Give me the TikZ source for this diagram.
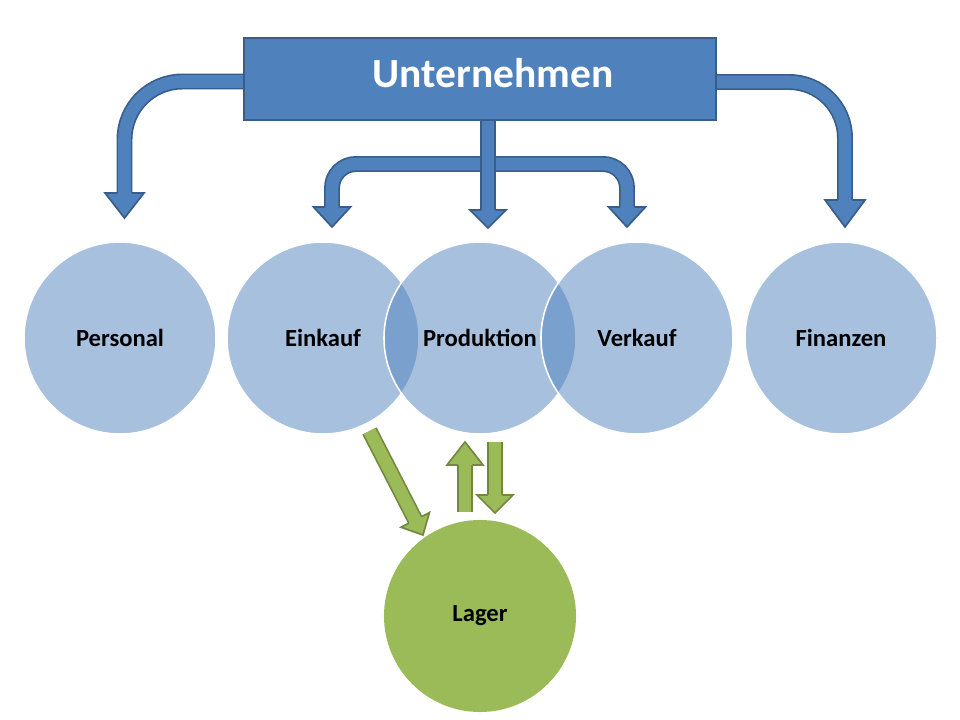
\documentclass[tikz,border=0pt]{standalone}
\usepackage{fontspec}
\setmainfont{Carlito}
\usetikzlibrary{calc}

\definecolor{blueA}{HTML}{4F81BD}
\definecolor{blueB}{HTML}{385D8A}
\definecolor{greenA}{HTML}{9BBB59}
\definecolor{greenB}{HTML}{71893F}

\tikzset{
  pics/head/.style 2 args={code={
    \fill (-#1,0) -- (0,#2) -- (#1,0) -- cycle;
    \draw[line join=miter] (-7.25,0) -- (-#1,0) -- (0,#2) -- (#1,0) -- (7.25,0);
  }},
}

\begin{document}
\begin{tikzpicture}[x=0.025cm, y=-0.025cm,
    blueline/.style={draw=blueB, double=blueA, line width=1.2pt, double distance=0.315cm, shorten >=-0.5pt},
    greenline/.style={draw=greenB, double=greenA, line width=1.2pt, double distance=0.315cm, shorten >=-0.5pt},
    bluetip/.style={fill=blueA, draw=blueB, line width=1.2pt},
    greentip/.style={fill=greenA, draw=greenB, line width=1.2pt},
    topbox/.style={rectangle, fill=blueA, draw=blueB, line width=1.1pt, minimum width=11.8cm, minimum height=2.05cm},
    headtext/.style={text=white, font=\bfseries\fontsize{29.5}{34}\selectfont},
    venn/.style={circle, fill=blueA, fill opacity=0.5, text opacity=1, draw=white, line width=1.1pt, minimum size=4.8cm, font=\bfseries\fontsize{17.5}{20}\selectfont},
    lager/.style={circle, fill=greenA, minimum size=4.8cm, font=\bfseries\fontsize{17.5}{20}\selectfont}]
  \useasboundingbox (0,0) rectangle (960,720);

  \node[venn] (P) at (120,338) {Personal};
  \node[venn] (E) at (323,338) {Einkauf};
  \node[venn] (Pr) at (480,338) {Produktion};
  \node[venn] (V) at (637,338) {Verkauf};
  \node[venn] (F) at (841,338) {Finanzen};
  \node[lager] (L) at (480,616) {Lager};

  \coordinate (hP) at (124.5,193);
  \coordinate (hE) at (332,207);
  \coordinate (hPr) at (488,210);
  \coordinate (hV) at (627,207);
  \coordinate (hF) at (845,200);

  \draw[blueline, rounded corners=1.45cm] (246,81.5) -| (hP);
  \draw[blueline, rounded corners=1.4cm] (714,82) -| (hF);
  \draw[blueline, rounded corners=0.6cm] (hE) |- (480,164) -| (hV);
  \draw[blueline] (488,118) -- (hPr);

  \node[topbox] (U) at (480,79) {};
  \node[headtext] (T) at (493,73) {Unternehmen};

  \pic[bluetip] at (hP) {head={19.5}{25}};
  \pic[bluetip] at (hE) {head={18.5}{20}};
  \pic[bluetip] at (hPr) {head={18}{18}};
  \pic[bluetip] at (hV) {head={18.5}{20}};
  \pic[bluetip] at (hF) {head={20}{27}};

  \coordinate (g1) at (369.5,431);
  \coordinate (g2) at (415.2,519.9);
  \coordinate (u1) at (465,512);
  \coordinate (u2) at (465,465);
  \coordinate (d1) at (495,442);
  \coordinate (d2) at (495,495);

  \draw[greenline] (g1) -- (g2);
  \draw[greenline] (u1) -- (u2);
  \draw[greenline] (d1) -- (d2);
  \pic[greentip, rotate=27.2] at (g2) {head={16}{17}};
  \pic[greentip, rotate=180] at (u2) {head={18}{23}};
  \pic[greentip] at (d2) {head={18}{18}};
\end{tikzpicture}
\end{document}
